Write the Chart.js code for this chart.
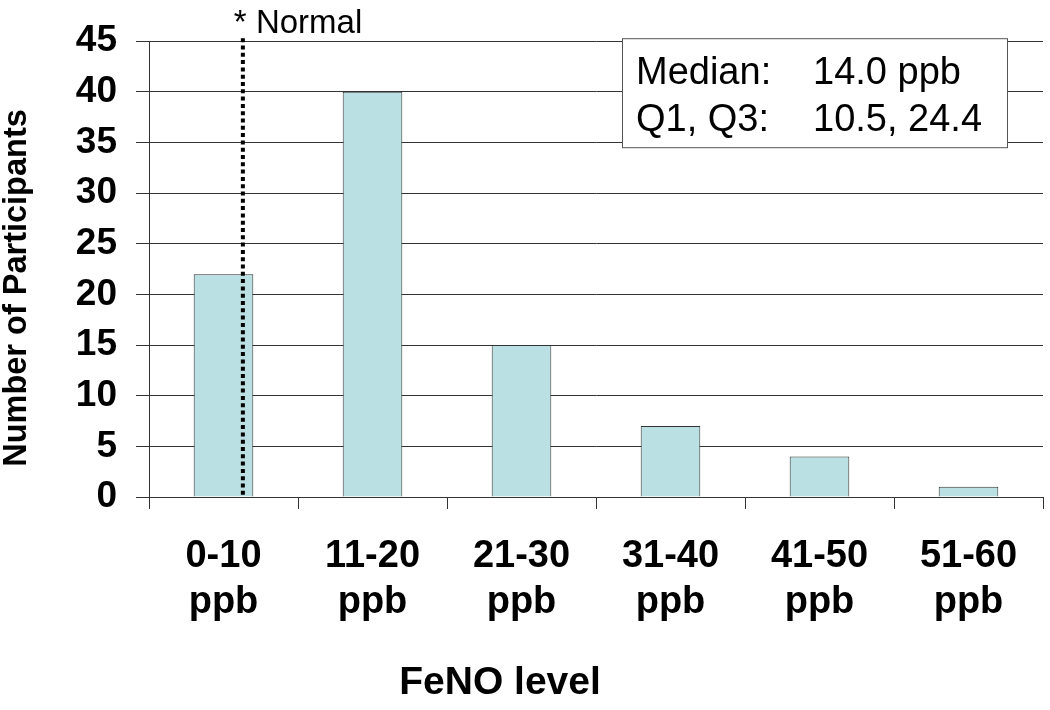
<!DOCTYPE html>
<html>
<head>
<meta charset="utf-8">
<script src="https://cdn.jsdelivr.net/npm/chart.js@4"></script>
<style>
  html, body { margin: 0; padding: 0; background: #ffffff; }
  #wrap { width: 1050px; height: 710px; }
</style>
</head>
<body>
<div id="wrap"><canvas id="c" width="1050" height="710"></canvas></div>
<script>
// ---- data ----
const rangeLabels = ['0-10', '11-20', '21-30', '31-40', '41-50', '51-60'];
const unitLabel = 'ppb';
const participants = [22, 40, 15, 7, 4, 1];
const yTicks = [0, 5, 10, 15, 20, 25, 30, 35, 40, 45];
const statNames = ['Median:', 'Q1, Q3:'];
const statValues = ['14.0 ppb', '10.5, 24.4'];
const normalText = '* Normal';
const normalLineAt = 0.13; // position on category axis (index units)
const xTitle = 'FeNO level';
const yTitle = 'Number of Participants';

const FONT = '"Liberation Sans", Arial, sans-serif';
const AXIS = '#333333';

const overlay = {
  id: 'overlay',
  afterDatasetsDraw(chart) {
    const ctx = chart.ctx;
    const x = chart.scales.x, y = chart.scales.y;
    const ca = chart.chartArea;
    // dotted "normal" line
    const p0 = x.getPixelForValue(0), p1 = x.getPixelForValue(1);
    const lx = p0 + normalLineAt * (p1 - p0);
    ctx.save();
    ctx.strokeStyle = '#000';
    ctx.lineWidth = 4;
    ctx.setLineDash([4, 3.3]);
    ctx.beginPath();
    ctx.moveTo(lx, ca.top - 3);
    ctx.lineTo(lx, y.getPixelForValue(0) + 1);
    ctx.stroke();
    ctx.setLineDash([]);
    ctx.fillStyle = '#000';
    ctx.font = '33px ' + FONT;
    ctx.textBaseline = 'alphabetic';
    ctx.textAlign = 'left';
    ctx.fillText(normalText, lx - 9, ca.top - 8);
    // stats box
    const bx = ca.right - 421, by = ca.top - 3, bw = 385, bh = 109;
    ctx.fillStyle = '#fff';
    ctx.fillRect(bx, by, bw, bh);
    ctx.strokeStyle = '#555';
    ctx.lineWidth = 1;
    ctx.strokeRect(bx + 0.5, by + 0.5, bw, bh);
    ctx.fillStyle = '#000';
    ctx.font = '38px ' + FONT;
    for (let i = 0; i < statNames.length; i++) {
      const base = by + 46 + i * 47;
      ctx.fillText(statNames[i], bx + 14, base);
      ctx.fillText(statValues[i], bx + 191, base);
    }
    // axis titles
    ctx.font = 'bold 39px ' + FONT;
    ctx.textAlign = 'center';
    ctx.textBaseline = 'middle';
    ctx.fillText(xTitle, 500, 683);
    ctx.translate(17, 288);
    ctx.rotate(-Math.PI / 2);
    ctx.font = 'bold 32.5px ' + FONT;
    ctx.fillText(yTitle, 0, 0);
    ctx.restore();
  }
};

new Chart(document.getElementById('c'), {
  type: 'bar',
  data: {
    labels: rangeLabels.map(r => [r, unitLabel]),
    datasets: [{
      data: participants,
      backgroundColor: '#BBE0E3',
      borderColor: AXIS,
      borderWidth: 1,
      barPercentage: 0.4,
      categoryPercentage: 1.0
    }]
  },
  options: {
    responsive: false,
    animation: false,
    layout: { padding: { top: 40, right: 7, bottom: 0, left: 0 } },
    plugins: { legend: { display: false }, tooltip: { enabled: false } },
    scales: {
      x: {
        afterFit: s => { s.height = 213; },
        grid: {
          offset: true,
          color: c => (c.index === 0 || c.index === rangeLabels.length) ? AXIS : 'rgba(0,0,0,0)',
          tickColor: AXIS,
          tickLength: 12,
          lineWidth: 1
        },
        border: { display: true, color: AXIS, width: 1 },
        ticks: {
          color: '#000',
          padding: 25,
          font: { family: FONT, size: 38, weight: 'bold', lineHeight: 1.21 },
          maxRotation: 0,
          autoSkip: false
        },
        title: { display: false }
      },
      y: {
        min: 0,
        max: 45,
        afterFit: s => { s.width = 149; },
        afterBuildTicks: s => { s.ticks = yTicks.map(v => ({ value: v })); },
        grid: { color: AXIS, tickColor: AXIS, tickLength: 13, lineWidth: 1 },
        border: { display: true, color: AXIS, width: 1 },
        ticks: {
          color: '#000',
          padding: 19,
          font: { family: FONT, size: 37, weight: 'bold' }
        },
        title: { display: false }
      }
    }
  },
  plugins: [overlay]
});
</script>
</body>
</html>
